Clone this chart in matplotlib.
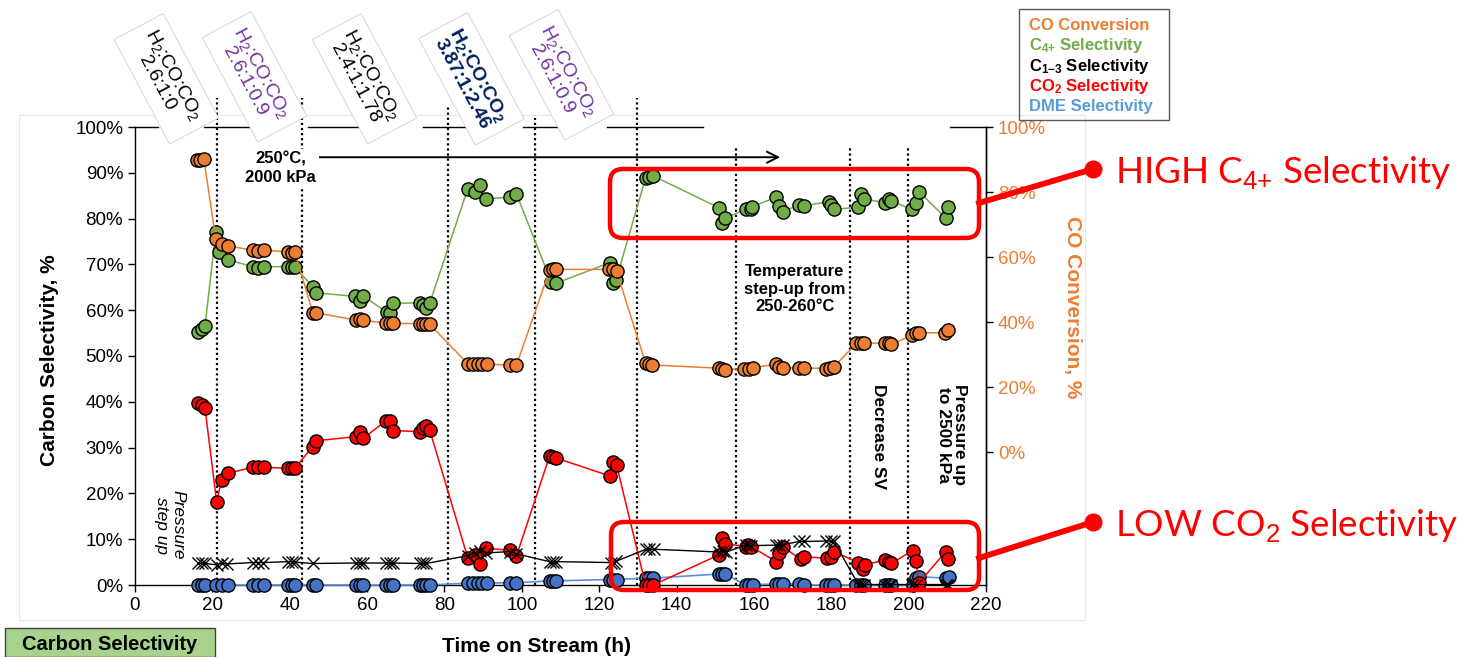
import matplotlib
matplotlib.use("Agg")
import matplotlib.pyplot as plt
import matplotlib.transforms as mtransforms
from matplotlib.patches import FancyBboxPatch, Rectangle
from matplotlib.lines import Line2D

plt.rcParams['font.family'] = ['Liberation Sans', 'DejaVu Sans']
plt.rcParams['mathtext.fontset'] = 'custom'
plt.rcParams['mathtext.rm'] = 'Liberation Sans'
plt.rcParams['mathtext.it'] = 'Liberation Sans:italic'
plt.rcParams['mathtext.bf'] = 'Liberation Sans:bold'

# ---- data (time on stream, h) ----
t_co = [15.9, 16.8, 17.8, 20.9, 22.4, 24.1, 30.4, 31.8, 33.3, 39.6, 40.5, 41.3,
        46.0, 46.9, 57.2, 58.1, 58.9, 65.0, 65.8, 66.7, 73.6, 74.4, 75.3, 76.2,
        86.0, 87.3, 88.6, 89.8, 91.0, 97.0, 98.6, 107.2, 108.0, 108.9,
        122.6, 123.5, 124.5, 132.0, 132.8, 133.7, 150.9, 151.7, 152.6,
        157.5, 158.8, 159.7, 165.7, 166.5, 167.4, 171.7, 173.0, 178.6, 179.7, 180.7,
        186.5, 187.6, 188.5, 193.9, 194.8, 195.5, 200.8, 201.8, 202.7, 209.4, 210.3]
co_conv = [89.8, 90.0, 90.2, 65.4, 64.0, 63.4, 62.1, 61.9, 62.1, 61.6, 61.2, 61.6,
           42.8, 42.8, 40.6, 40.9, 40.6, 39.6, 39.8, 39.6, 39.5, 39.4, 39.3, 39.3,
           27.2, 27.2, 27.1, 27.1, 27.1, 26.7, 26.7, 56.0, 56.2, 56.2,
           56.2, 56.2, 55.6, 27.4, 27.0, 26.8, 25.8, 25.5, 25.3,
           25.7, 25.7, 26.0, 27.0, 26.2, 25.8, 25.9, 25.9, 25.7, 26.0, 26.3,
           33.4, 33.4, 33.4, 33.6, 33.4, 33.1, 35.9, 36.7, 36.7, 36.7, 37.7]

t_c4 = [16.3, 17.2, 18.1, 20.9, 21.8, 24.1, 30.4, 31.8, 33.3, 39.6, 40.5, 41.3,
        45.9, 46.9, 57.0, 58.1, 58.9, 65.1, 65.8, 66.7, 73.6, 74.4, 75.3, 76.2,
        86.0, 87.8, 89.3, 90.8, 97.0, 98.6, 107.6, 108.9,
        122.8, 123.5, 123.5, 124.4, 132.0, 133.0, 134.0, 150.9, 151.7, 152.6,
        157.9, 159.2, 159.6, 165.8, 166.5, 167.4, 171.7, 173.0, 179.4, 179.9, 180.7,
        186.9, 187.6, 188.5, 193.8, 195.0, 195.5, 200.8, 201.8, 202.7, 209.6, 210.3]
c4_sel = [55.3, 56.0, 56.6, 77.1, 72.8, 71.0, 69.5, 69.3, 69.5, 69.5, 69.5, 69.5,
          65.1, 63.8, 63.0, 61.9, 63.2, 59.5, 59.3, 61.5, 61.6, 61.1, 60.4, 61.5,
          86.5, 85.7, 87.3, 84.3, 84.7, 85.4, 66.2, 65.9,
          70.4, 69.1, 66.0, 66.7, 88.9, 89.0, 89.3, 82.4, 79.0, 80.1,
          82.0, 82.0, 82.6, 84.7, 82.8, 81.5, 83.0, 82.8, 83.7, 83.0, 82.0,
          82.5, 85.4, 84.3, 83.5, 84.2, 83.9, 82.0, 83.3, 85.9, 80.1, 82.5]

t_co2 = [16.3, 17.2, 18.1, 21.1, 22.4, 24.1, 30.4, 31.8, 33.3, 39.6, 40.5, 41.3,
         45.9, 46.9, 57.2, 58.1, 58.9, 65.0, 65.8, 66.7, 73.6, 74.4, 75.3, 76.2,
         86.0, 87.8, 89.3, 90.8, 97.0, 98.6, 107.2, 108.0, 108.9,
         122.8, 123.5, 124.5, 132.0, 133.0, 134.0, 151.0, 151.7, 152.6,
         157.9, 158.6, 159.2, 165.8, 166.5, 167.4, 172.1, 173.0, 179.0, 179.9, 180.7,
         187.0, 188.2, 188.7, 193.9, 194.8, 195.5, 201.0, 201.8, 202.7, 209.6, 210.3]
co2_sel = [39.7, 39.3, 38.6, 18.2, 22.9, 24.4, 25.7, 25.7, 25.7, 25.5, 25.5, 25.5,
           30.2, 31.5, 32.4, 33.5, 32.0, 35.9, 35.9, 33.7, 33.5, 34.2, 34.7, 33.8,
           6.0, 6.6, 4.6, 8.0, 7.6, 6.3, 28.2, 27.9, 27.7,
           23.8, 26.9, 26.2, 0.0, 0.0, 0.0, 6.6, 10.2, 9.0,
           8.4, 8.7, 8.4, 5.1, 6.9, 8.4, 5.6, 6.2, 5.8, 6.2, 7.3,
           4.9, 3.6, 4.4, 5.5, 5.1, 4.7, 7.5, 5.3, 0.5, 7.3, 5.6]

t_c13 = [16.3, 17.2, 18.1, 21.1, 22.4, 23.7, 30.5, 31.8, 33.1, 39.6, 40.5, 41.3,
         45.9, 57.2, 58.1, 58.9, 65.0, 65.8, 66.7, 73.6, 74.4, 75.3,
         86.0, 87.8, 89.3, 90.8, 97.0, 98.6, 107.2, 108.0, 108.9,
         123.1, 123.9, 124.4, 132.1, 133.0, 134.3, 151.0, 151.9, 152.8,
         157.9, 158.8, 159.2, 165.7, 166.5, 167.4, 171.7, 173.0, 178.6, 179.9, 180.7,
         187.0, 187.6, 188.5, 193.9, 194.8, 195.5, 200.8, 201.8, 209.6, 210.3]
c13_sel = [4.7, 4.7, 4.7, 4.4, 4.7, 4.6, 4.9, 4.9, 4.9, 5.1, 5.1, 5.0,
           4.7, 4.8, 4.8, 4.8, 4.8, 4.8, 4.8, 4.7, 4.7, 4.7,
           6.4, 7.0, 7.5, 7.0, 7.3, 6.8, 5.1, 5.1, 5.1,
           4.9, 4.9, 5.2, 7.8, 7.8, 7.8, 7.2, 7.4, 7.2,
           8.7, 8.7, 8.6, 8.7, 8.7, 8.8, 9.5, 9.5, 9.6, 9.6, 9.5,
           0.1, 0.1, 0.1, 0.1, 0.1, 0.1, 0.1, 0.1, 0.1, 0.1]

t_dme = [16.3, 17.2, 18.1, 20.9, 22.4, 24.1, 30.4, 31.8, 33.3, 39.6, 40.5, 41.3,
         45.9, 46.9, 57.2, 58.1, 58.9, 65.0, 65.8, 66.7, 73.6, 74.4, 75.3, 76.2,
         86.0, 87.3, 88.6, 89.8, 91.0, 97.0, 98.6, 107.2, 108.0, 108.9,
         122.8, 123.5, 124.5, 132.0, 133.0, 134.0, 150.9, 151.7, 152.6,
         157.9, 158.8, 159.7, 165.8, 166.5, 167.4, 171.7, 173.0, 178.6, 179.7, 180.7,
         186.5, 187.6, 188.5, 193.9, 194.8, 195.5, 201.0, 202.0, 202.7, 209.6, 210.4]
dme_sel = [0.0, 0.0, 0.0, 0.0, 0.0, 0.0, 0.0, 0.0, 0.0, 0.0, 0.0, 0.0,
           0.0, 0.0, 0.0, 0.0, 0.0, 0.0, 0.0, 0.0, 0.0, 0.0, 0.0, 0.0,
           0.4, 0.4, 0.4, 0.4, 0.4, 0.5, 0.5, 0.9, 0.9, 0.9,
           1.2, 1.2, 1.2, 1.5, 1.5, 1.5, 2.4, 2.4, 2.4,
           0.0, 0.0, 0.1, 0.2, 0.3, 0.2, 0.2, 0.0, 0.0, 0.0, 0.0,
           0.0, 0.0, 0.0, 0.0, 0.0, 0.0, 0.0, 1.5, 1.8, 1.5, 1.8]

phase_changes = [21.1, 43.2, 80.8, 103.5, 129.8, 155.4, 184.9, 199.9]
phase_tops = [1.063, 1.063, 1.044, 1.02, 1.063, 0.954, 0.954, 0.954]

feed_labels = ["2.6:1:0", "2.6:1:0.9", "2.4:1:1.78", "3.87:1:2.46", "2.6:1:0.9"]
feed_colors = ["black", "#7030A0", "black", "#002060", "#7030A0"]
feed_bold = [False, False, False, True, False]
feed_pos_px = [(166, 79), (254, 77), (364, 79), (471, 79), (561, 75)]

ORANGE = "#ED7D31"
GREEN = "#70AD47"
RED = "#FF0000"
BLUE = "#4472C4"
BLUE_LINE = "#5B8FD6"

W, H = 1458, 657
fig = plt.figure(figsize=(W / 100, H / 100), dpi=100)
ax = fig.add_axes([135 / W, 72 / H, 851 / W, 458 / H])
ax2 = ax.twinx()


def inch(x, y):
    return x / 100, (H - y) / 100


# faint chart-area frame
fig.patches.append(Rectangle(inch(19, 620), 10.66, 5.05, transform=fig.dpi_scale_trans,
                             fill=False, edgecolor="#E8E8E8", lw=0.8))

mk = dict(marker="o", markersize=9.5, markeredgecolor="black", markeredgewidth=1.0,
          clip_on=False)
ax.plot(t_dme, dme_sel, color=BLUE_LINE, lw=1.2, markerfacecolor=BLUE, zorder=3, **mk)
ax.plot(t_co2, co2_sel, color=RED, lw=1.1, markerfacecolor=RED, zorder=4, **mk)
ax.plot(t_c13, c13_sel, color="black", lw=1.0, marker="x", markersize=8, markeredgewidth=1.0,
        zorder=5, clip_on=False)
ax.plot(t_c4, c4_sel, color=GREEN, lw=1.1, markerfacecolor=GREEN, zorder=6, **mk)
ax2.plot(t_co, co_conv, color=ORANGE, lw=1.1, markerfacecolor=ORANGE, zorder=6, **mk)

ax.set_xlim(0, 220)
ax.set_ylim(0, 100)
ax2.set_ylim(-40.9, 100)
ax.set_xticks(range(0, 221, 20))
ax.set_yticks(range(0, 101, 10))
ax.set_yticklabels([f"{v}%" for v in range(0, 101, 10)])
ax2.set_yticks(range(0, 101, 20))
ax2.set_yticklabels([f"{v}%" for v in range(0, 101, 20)])

ax.tick_params(direction="out", length=5, width=1, labelsize=13.5)
ax2.tick_params(direction="out", length=5, width=1, labelsize=13.5, labelcolor=ORANGE)
for a in (ax, ax2):
    a.spines["top"].set_visible(False)
    for s in ("left", "right", "bottom"):
        a.spines[s].set_linewidth(1.0)
ax2.spines["left"].set_visible(False)
ax2.spines["bottom"].set_visible(False)

# broken top frame
trans_top = mtransforms.blended_transform_factory(ax.transData, ax.transAxes)
for x0, x1 in [(0, 5.9), (17.8, 30.9), (44.7, 59.1), (74.4, 88.8), (100.4, 110.5),
               (122.1, 146.9), (210.7, 220)]:
    ax.plot([x0, x1], [1, 1], color="black", lw=1.0, transform=trans_top, clip_on=False)

# phase dividers
for x, top in zip(phase_changes, phase_tops):
    ax.plot([x, x], [0, top], color="black", lw=1.6, ls=(0, (1, 1.3)),
            transform=trans_top, clip_on=False, zorder=2)

# annotations inside plot
ax.text(37.7, 91, "250°C,\n2000 kPa", ha="center", va="center", fontsize=12,
        fontweight="bold", linespacing=1.3, zorder=7,
        bbox=dict(boxstyle="square,pad=0.15", facecolor="white", edgecolor="none"))
ax.annotate("", xy=(167.5, 93.4), xytext=(46, 93.4),
            arrowprops=dict(arrowstyle="->", lw=1.4, color="black", mutation_scale=20))
ax.text(170.6, 64.6, "Temperature\nstep-up from\n250-260°C", ha="center", va="center",
        fontsize=12, fontweight="bold", linespacing=1.2)
ax.text(192.1, 32.5, "Decrease SV", rotation=-90, ha="center", va="center",
        fontsize=12.5, fontweight="bold")
ax.text(211.0, 32.8, "Pressure up\nto 2500 kPa", rotation=-90, ha="center", va="center",
        fontsize=12.5, fontweight="bold", linespacing=1.1)
ax.text(9.0, 13.1, "Pressure\nstep up", rotation=-90, ha="center", va="center",
        fontsize=12.5, style="italic", linespacing=1.1)

# axis labels
fig.text(*inch(50, 360), "Carbon Selectivity, %", rotation=90, ha="center", va="center",
         fontsize=15, fontweight="bold", transform=fig.dpi_scale_trans)
fig.text(*inch(537, 646), "Time on Stream (h)", ha="center", va="center",
         fontsize=15, fontweight="bold", transform=fig.dpi_scale_trans)
fig.text(*inch(1072, 307), "CO Conversion, %", rotation=-90, ha="center", va="center",
         fontsize=15, fontweight="bold", color=ORANGE, transform=fig.dpi_scale_trans)

# feed ratio labels
for lab, col, bold, (px, py) in zip(feed_labels, feed_colors, feed_bold, feed_pos_px):
    if bold:
        s = r"$\mathbf{H_2}$:CO:$\mathbf{CO_2}$" + "\n" + lab
    else:
        s = r"H$_2$:CO:CO$_2$" + "\n" + lab
    fig.text(*inch(px, py), s, rotation=-62, rotation_mode="anchor", ha="center",
             va="center", fontsize=14, color=col,
             fontweight="bold" if bold else "normal", linespacing=1.0,
             multialignment="center", transform=fig.dpi_scale_trans,
             bbox=dict(boxstyle="square,pad=0.45", facecolor="white",
                       edgecolor="#C8C8C8", lw=0.5))

# series legend (coloured text)
fig.patches.append(Rectangle(inch(1019, 120), 1.50, 1.11, transform=fig.dpi_scale_trans,
                             fill=False, edgecolor="#595959", lw=1.0))
legend_items = [("CO Conversion", ORANGE), (r"$\mathbf{C_{4{+}}}$ Selectivity", GREEN),
                (r"$\mathbf{C_{1{-}3}}$ Selectivity", "black"),
                (r"$\mathbf{CO_2}$ Selectivity", RED), ("DME Selectivity", "#5B9BD5")]
for i, (lab, col) in enumerate(legend_items):
    fig.text(*inch(1029, 30 + 20.3 * i), lab, ha="left", va="baseline", fontsize=12,
             fontweight="bold", color=col, transform=fig.dpi_scale_trans)

# red callouts
callouts = [((610, 169, 979, 238), (1093, 169), 203, r"HIGH C$_{4{+}}$ Selectivity"),
            ((611, 522, 979, 590), (1093, 522), 558, r"LOW CO$_2$ Selectivity")]
for (x0, y0, x1, y1), (lx, ly), sy_px, label in callouts:
    bx, by = inch(x0, y1)
    fig.patches.append(FancyBboxPatch((bx, by), (x1 - x0) / 100, (y1 - y0) / 100,
                                      boxstyle="round,pad=0,rounding_size=0.13",
                                      transform=fig.dpi_scale_trans, fill=False,
                                      edgecolor=RED, lw=3.2, zorder=10))
    sx, sy = inch(x1, sy_px)
    ex, ey = inch(lx, ly)
    fig.lines.append(Line2D([sx, ex], [sy, ey], transform=fig.dpi_scale_trans,
                            color=RED, lw=4.2, zorder=10))
    fig.lines.append(Line2D([ex], [ey], transform=fig.dpi_scale_trans, marker="o",
                            markersize=12, color=RED, zorder=11))
    fig.text(*inch(1115, ly + 14), label, ha="left", va="baseline", fontsize=26.5,
             color=RED, family=["Lato", "DejaVu Sans"], transform=fig.dpi_scale_trans)

# bottom-left tag
fig.patches.append(Rectangle(inch(5, 657), 2.10, 0.29, transform=fig.dpi_scale_trans,
                             facecolor="#A9D18E", edgecolor="#404040", lw=1.0))
fig.text(*inch(110, 644), "Carbon Selectivity", ha="center", va="center", fontsize=14.5,
         fontweight="bold", transform=fig.dpi_scale_trans)

fig.savefig("out.png", dpi=100)
